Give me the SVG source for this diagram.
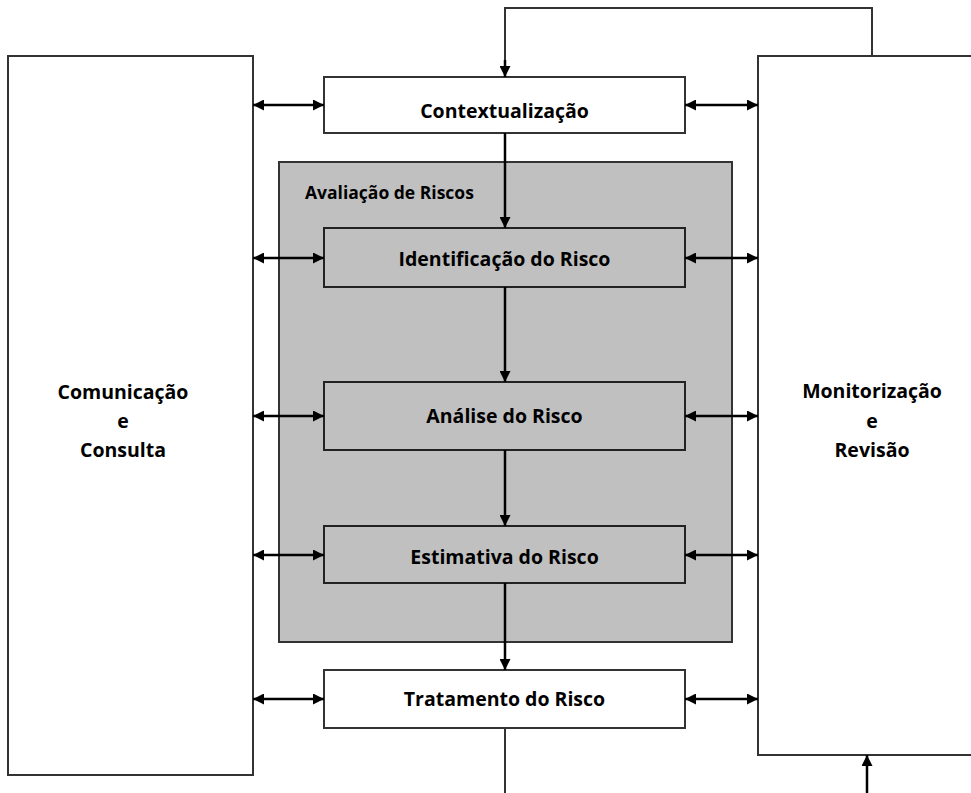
<svg xmlns="http://www.w3.org/2000/svg" width="971" height="793" viewBox="0 0 971 793">
  <defs>
    <marker id="head" viewBox="0 0 10 10" refX="10" refY="5" markerWidth="11" markerHeight="11" markerUnits="userSpaceOnUse" orient="auto-start-reverse">
      <path d="M0,0 L10,5 L0,10 Z" fill="#000"/>
    </marker>
    <style>
      .box { fill: #fff; stroke: #333; stroke-width: 2; }
      .step { fill: #c0c0c0; stroke: #222; stroke-width: 2; }
      .zone { fill: #c0c0c0; stroke: #333; stroke-width: 2; }
      .lbl { font-family: "Open Sans", "Liberation Sans", sans-serif; font-weight: 700; font-size: 19.5px; fill: #000; text-anchor: middle; }
      .zlbl { font-family: "Open Sans", "Liberation Sans", sans-serif; font-weight: 700; font-size: 17.5px; fill: #000; }
      .link { fill: none; stroke: #000; stroke-width: 2.5; }
      .thin { fill: none; stroke: #333; stroke-width: 2; }
    </style>
  </defs>

  <rect width="971" height="793" fill="#fff"/>

  <!-- side boxes -->
  <g id="comunicacao">
    <rect class="box" x="8" y="56" width="245" height="719"/>
    <text class="lbl" x="123" y="399">Comunicação</text>
    <text class="lbl" x="123" y="428">e</text>
    <text class="lbl" x="123" y="457">Consulta</text>
  </g>
  <g id="monitorizacao">
    <rect class="box" x="758" y="56" width="240" height="699"/>
    <text class="lbl" x="872" y="398">Monitorização</text>
    <text class="lbl" x="872" y="428">e</text>
    <text class="lbl" x="872" y="457">Revisão</text>
  </g>

  <!-- assessment zone -->
  <g id="avaliacao">
    <rect class="zone" x="279" y="162" width="453" height="480"/>
    <text class="zlbl" x="305" y="199">Avaliação de Riscos</text>
  </g>

  <g id="contextualizacao">
    <rect class="box" x="324" y="77" width="361" height="56"/>
    <text class="lbl" x="504.5" y="118">Contextualização</text>
  </g>
  <g id="identificacao">
    <rect class="step" x="324" y="228" width="361" height="59"/>
    <text class="lbl" x="504.5" y="266">Identificação do Risco</text>
  </g>
  <g id="analise">
    <rect class="step" x="324" y="382" width="361" height="68"/>
    <text class="lbl" x="504.5" y="423">Análise do Risco</text>
  </g>
  <g id="estimativa">
    <rect class="step" x="324" y="526" width="361" height="57"/>
    <text class="lbl" x="504.5" y="564">Estimativa do Risco</text>
  </g>
  <g id="tratamento">
    <rect class="box" x="324" y="670" width="361" height="58"/>
    <text class="lbl" x="504.5" y="706">Tratamento do Risco</text>
  </g>

  <!-- connectors -->
  <g id="connectors">
    <!-- main flow -->
    <line class="link" x1="505" y1="133" x2="505" y2="228" marker-end="url(#head)"/>
    <line class="link" x1="505" y1="287" x2="505" y2="382" marker-end="url(#head)"/>
    <line class="link" x1="505" y1="450" x2="505" y2="526" marker-end="url(#head)"/>
    <line class="link" x1="505" y1="583" x2="505" y2="670" marker-end="url(#head)"/>
    <line class="thin" x1="505" y1="728" x2="505" y2="793"/>

    <!-- feedback loop -->
    <polyline class="thin" points="872,56 872,8 505,8 505,68"/>
    <line class="link" x1="505" y1="60" x2="505" y2="77" marker-end="url(#head)"/>
    <line class="link" x1="867" y1="793" x2="867" y2="755" marker-end="url(#head)"/>

    <!-- communication links -->
    <line class="link" x1="253" y1="105" x2="324" y2="105" marker-start="url(#head)" marker-end="url(#head)"/>
    <line class="link" x1="253" y1="258" x2="324" y2="258" marker-start="url(#head)" marker-end="url(#head)"/>
    <line class="link" x1="253" y1="416" x2="324" y2="416" marker-start="url(#head)" marker-end="url(#head)"/>
    <line class="link" x1="253" y1="555" x2="324" y2="555" marker-start="url(#head)" marker-end="url(#head)"/>
    <line class="link" x1="253" y1="699" x2="324" y2="699" marker-start="url(#head)" marker-end="url(#head)"/>

    <!-- monitoring links -->
    <line class="link" x1="685" y1="105" x2="758" y2="105" marker-start="url(#head)" marker-end="url(#head)"/>
    <line class="link" x1="685" y1="258" x2="758" y2="258" marker-start="url(#head)" marker-end="url(#head)"/>
    <line class="link" x1="685" y1="416" x2="758" y2="416" marker-start="url(#head)" marker-end="url(#head)"/>
    <line class="link" x1="685" y1="555" x2="758" y2="555" marker-start="url(#head)" marker-end="url(#head)"/>
    <line class="link" x1="685" y1="699" x2="758" y2="699" marker-start="url(#head)" marker-end="url(#head)"/>
  </g>
</svg>
